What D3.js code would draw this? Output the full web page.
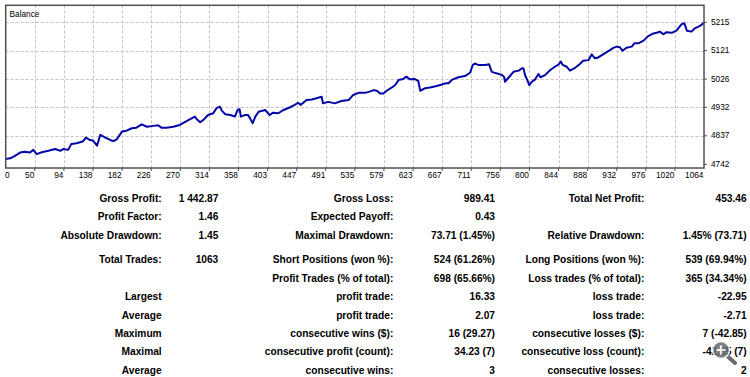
<!DOCTYPE html>
<html>
<head>
<meta charset="utf-8">
<script src="https://cdn.jsdelivr.net/npm/d3@7"></script>
<style>
  html, body { margin: 0; padding: 0; background: #fff; }
  svg { display: block; }
</style>
</head>
<body>
<script>
// balance after trade number
const trades = [0, 7, 14, 22, 29, 37, 42, 47, 55, 65, 75, 83, 88, 95, 100, 108, 118, 122, 128, 133,
  139, 144, 151, 159, 164, 169, 177, 184, 192, 199, 207, 215, 225, 232, 237, 245, 255, 265, 276, 283,
  288, 291, 296, 301, 308, 316, 321, 326, 329, 334, 342, 349, 353, 356, 358, 364, 369, 372, 376, 380,
  385, 395, 402, 407, 415, 423, 433, 440, 445, 449, 458, 466, 473, 481, 483, 491, 501, 511, 522, 529,
  537, 547, 554, 560, 565, 570, 575, 580, 588, 593, 598, 605, 610, 615, 623, 628, 631, 638, 646, 656,
  664, 670, 674, 679, 689, 699, 707, 711, 714, 719, 730, 736, 737, 740, 747, 755, 759, 760, 766, 773,
  781, 786, 788, 791, 793, 797, 801, 806, 811, 814, 821, 829, 836, 841, 845, 848, 854, 859, 866, 874,
  879, 887, 892, 897, 902, 910, 918, 925, 930, 935, 939, 945, 953, 957, 963, 971, 978, 986, 991, 996,
  1001, 1006, 1014, 1021, 1029, 1033, 1037, 1044, 1049, 1057, 1063];
const balance = [4760, 4762, 4770, 4781, 4784, 4781, 4790, 4776, 4782, 4787, 4793, 4787, 4793, 4790, 4810, 4812, 4819, 4831, 4823, 4821,
  4804, 4840, 4832, 4823, 4819, 4825, 4851, 4854, 4862, 4864, 4875, 4867, 4870, 4872, 4864, 4864, 4867, 4873, 4887, 4895,
  4901, 4892, 4882, 4890, 4906, 4912, 4929, 4934, 4921, 4909, 4906, 4901, 4923, 4926, 4901, 4906, 4906, 4895, 4879, 4901,
  4917, 4923, 4906, 4914, 4912, 4923, 4932, 4940, 4947, 4940, 4956, 4958, 4962, 4967, 4945, 4950, 4945, 4953, 4956, 4973,
  4980, 4980, 4984, 4989, 4987, 4978, 4978, 4987, 4998, 5006, 5023, 5026, 5034, 5025, 5026, 5020, 4987, 4995, 4998, 5003,
  5008, 5012, 5012, 5023, 5032, 5036, 5047, 5073, 5078, 5073, 5073, 5075, 5067, 5050, 5045, 5040, 5032, 5017, 5032, 5050,
  5054, 5062, 5062, 5036, 5028, 5006, 5017, 5025, 5043, 5032, 5039, 5056, 5067, 5073, 5084, 5073, 5067, 5054, 5062, 5076,
  5087, 5089, 5108, 5095, 5098, 5109, 5120, 5130, 5134, 5132, 5120, 5130, 5134, 5145, 5145, 5154, 5169, 5178, 5180, 5184,
  5175, 5182, 5180, 5187, 5209, 5212, 5187, 5184, 5195, 5203, 5213.5];

const xTickLabels = ["0", "50", "94", "138", "182", "226", "270", "314", "358", "403", "447", "491", "535",
  "579", "623", "667", "711", "756", "800", "844", "888", "932", "976", "1020", "1064"];
const yTickValues = [4742, 4837, 4932, 5026, 5121, 5215];

// report rows: [label, value] for the three column pairs
const reportRows = [
  [["Gross Profit:", "1 442.87"], ["Gross Loss:", "989.41"], ["Total Net Profit:", "453.46"]],
  [["Profit Factor:", "1.46"], ["Expected Payoff:", "0.43"], null],
  [["Absolute Drawdown:", "1.45"], ["Maximal Drawdown:", "73.71 (1.45%)"], ["Relative Drawdown:", "1.45% (73.71)"]],
  [["Total Trades:", "1063"], ["Short Positions (won %):", "524 (61.26%)"], ["Long Positions (won %):", "539 (69.94%)"]],
  [null, ["Profit Trades (% of total):", "698 (65.66%)"], ["Loss trades (% of total):", "365 (34.34%)"]],
  [["Largest", ""], ["profit trade:", "16.33"], ["loss trade:", "-22.95"]],
  [["Average", ""], ["profit trade:", "2.07"], ["loss trade:", "-2.71"]],
  [["Maximum", ""], ["consecutive wins ($):", "16 (29.27)"], ["consecutive losses ($):", "7 (-42.85)"]],
  [["Maximal", ""], ["consecutive profit (count):", "34.23 (7)"], ["consecutive loss (count):", "-42.85 (7)"]],
  [["Average", ""], ["consecutive wins:", "3"], ["consecutive losses:", "2"]]
];

const W = 750, H = 377;
const plot = {left: 5.7, right: 704, top: 5.3, bottom: 168};

const svg = d3.select("body").append("svg")
    .attr("width", W)
    .attr("height", H)
    .style("font-family", "'Liberation Sans', Arial, sans-serif");

// scales
const x = d3.scaleLinear().domain([0, 1063]).range([plot.left, plot.right]);
const xGrid = d3.scaleLinear().domain([0, xTickLabels.length - 1]).range([plot.left, plot.right]);
const y = d3.scaleLinear().domain([4742, 5215]).range([164.3, 22.3]);

// grid
const grid = svg.append("g")
    .attr("stroke", "#c4c4c4")
    .attr("stroke-dasharray", "3,2")
    .attr("stroke-width", 1);
grid.selectAll(".vg")
  .data(d3.range(1, xTickLabels.length - 1))
  .join("line")
    .attr("x1", i => Math.round(xGrid(i)) + 0.5)
    .attr("x2", i => Math.round(xGrid(i)) + 0.5)
    .attr("y1", plot.top)
    .attr("y2", plot.bottom);
grid.selectAll(".hg")
  .data(yTickValues.slice(1))
  .join("line")
    .attr("x1", plot.left)
    .attr("x2", plot.right)
    .attr("y1", d => Math.round(y(d)) + 0.5)
    .attr("y2", d => Math.round(y(d)) + 0.5);

// balance line
svg.append("path")
    .datum(trades.map((t, i) => [t, balance[i]]))
    .attr("fill", "none")
    .attr("stroke", "#0505a8")
    .attr("stroke-width", 2)
    .attr("stroke-linejoin", "round")
    .attr("d", d3.line().x(d => x(d[0])).y(d => y(d[1])));

// frame
svg.append("rect")
    .attr("x", plot.left)
    .attr("y", plot.top)
    .attr("width", plot.right - plot.left)
    .attr("height", plot.bottom - plot.top)
    .attr("fill", "none")
    .attr("stroke", "#505050")
    .attr("stroke-width", 1.5);

svg.append("text")
    .attr("x", 9.5)
    .attr("y", 17)
    .attr("font-size", 8.3)
    .attr("fill", "#000")
    .text("Balance");

// x axis labels + ticks
const xt = svg.append("g");
xt.selectAll("line")
  .data(d3.range(1, xTickLabels.length - 1))
  .join("line")
    .attr("x1", i => xGrid(i))
    .attr("x2", i => xGrid(i))
    .attr("y1", plot.bottom)
    .attr("y2", plot.bottom + 3)
    .attr("stroke", "#505050");
xt.selectAll("text")
  .data(xTickLabels)
  .join("text")
    .attr("x", (d, i) => i === 0 ? 9.5 : xGrid(i) - 0.5)
    .attr("y", 178)
    .attr("text-anchor", "end")
    .attr("font-size", 8.3)
    .attr("fill", "#000")
    .text(d => d);

// y axis labels + ticks
const yt = svg.append("g");
yt.selectAll("line")
  .data(yTickValues)
  .join("line")
    .attr("x1", plot.right)
    .attr("x2", plot.right + 3)
    .attr("y1", d => y(d))
    .attr("y2", d => y(d))
    .attr("stroke", "#505050");
yt.selectAll("text")
  .data(yTickValues)
  .join("text")
    .attr("x", 711)
    .attr("y", d => y(d) + 2.5)
    .attr("font-size", 8.3)
    .attr("fill", "#000")
    .text(d => d);

// report table
const labelRight = [161.7, 393.3, 644.3];
const valueRight = [218.3, 495, 746.7];
const rowY = i => 198.3 + i * 18.35 + (i >= 3 ? 6.5 : 0);

const table = svg.append("g")
    .attr("font-size", 10.2)
    .attr("font-weight", "bold")
    .attr("fill", "#000");
reportRows.forEach((row, i) => {
  row.forEach((cell, c) => {
    if (!cell) return;
    table.append("text")
        .attr("x", labelRight[c])
        .attr("y", rowY(i) + 3.6)
        .attr("text-anchor", "end")
        .text(cell[0]);
    if (cell[1] !== "")
      table.append("text")
          .attr("x", valueRight[c])
          .attr("y", rowY(i) + 3.6)
          .attr("text-anchor", "end")
          .text(cell[1]);
  });
});

// magnifier overlay seen on the picture
const mag = svg.append("g").attr("transform", "translate(721,350)").attr("opacity", 0.85);
mag.append("line").attr("x1", 5).attr("y1", 5).attr("x2", 14).attr("y2", 13)
    .attr("stroke", "#555").attr("stroke-width", 4).attr("stroke-linecap", "round");
mag.append("circle").attr("r", 8.5).attr("fill", "#6a6a6a").attr("stroke", "#fff").attr("stroke-width", 1.5);
mag.append("path").attr("d", "M-4.5,0H4.5M0,-4.5V4.5").attr("stroke", "#fff").attr("stroke-width", 2.2);
</script>
</body>
</html>
